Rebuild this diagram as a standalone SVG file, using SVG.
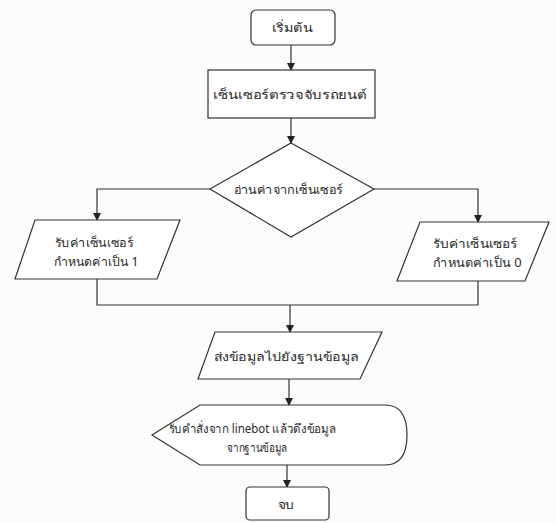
<svg xmlns="http://www.w3.org/2000/svg" width="556" height="523" viewBox="0 0 556 523">
<defs>
<marker id="ah" markerWidth="8" markerHeight="8" refX="7" refY="4" orient="auto" markerUnits="userSpaceOnUse">
<path d="M0,0 L8,4 L0,8 Z" fill="#222"/>
</marker>
<style>
.s{fill:#fff;stroke:#333;stroke-width:1.2}
.c{fill:none;stroke:#333;stroke-width:1.2}
.t{font-family:"Noto Sans","DejaVu Sans","Liberation Sans",sans-serif;font-size:12px;fill:#2a2a2a;text-anchor:middle;dominant-baseline:central}
</style>
</defs>
<rect width="556" height="523" fill="#fcfcfc"/>
<g id="connectors">
<path class="c" d="M291,45 V70" marker-end="url(#ah)"/>
<path class="c" d="M291,118 V143" marker-end="url(#ah)"/>
<path class="c" d="M210,189 H97 V220" marker-end="url(#ah)"/>
<path class="c" d="M374,189 H478 V222" marker-end="url(#ah)"/>
<path class="c" d="M97,279 V305 H478 V281"/>
<path class="c" d="M290,305 V332" marker-end="url(#ah)"/>
<path class="c" d="M289,379 V405" marker-end="url(#ah)"/>
<path class="c" d="M287,465 V487" marker-end="url(#ah)"/>
</g>
<g id="start">
<rect class="s" x="251" y="10" width="84" height="35" rx="5"/>
<text class="t" x="292" y="27" textLength="41" lengthAdjust="spacingAndGlyphs">เริ่มต้น</text>
</g>
<g id="sensor">
<rect class="s" x="208" y="70" width="167" height="48"/>
<text class="t" x="290" y="94" textLength="154" lengthAdjust="spacingAndGlyphs">เซ็นเซอร์ตรวจจับรถยนต์</text>
</g>
<g id="decision">
<path class="s" d="M291,143 L374,189 L291,237 L210,189 Z"/>
<text class="t" x="288" y="189" textLength="109" lengthAdjust="spacingAndGlyphs">อ่านค่าจากเซ็นเซอร์</text>
</g>
<g id="input1">
<path class="s" d="M35,220 H180 L157,279 H15 Z"/>
<text class="t" x="94" y="242" textLength="78" lengthAdjust="spacingAndGlyphs">รับค่าเซ็นเซอร์</text>
<text class="t" x="96" y="261" textLength="85" lengthAdjust="spacingAndGlyphs">กำหนดค่าเป็น 1</text>
</g>
<g id="input0">
<path class="s" d="M420,222 H549 L525,281 H397 Z"/>
<text class="t" x="475" y="243" textLength="84" lengthAdjust="spacingAndGlyphs">รับค่าเซ็นเซอร์</text>
<text class="t" x="477" y="262" textLength="89" lengthAdjust="spacingAndGlyphs">กำหนดค่าเป็น 0</text>
</g>
<g id="send">
<path class="s" d="M215,332 H382 L360,379 H198 Z"/>
<text class="t" x="286" y="356" textLength="145" lengthAdjust="spacingAndGlyphs">ส่งข้อมูลไปยังฐานข้อมูล</text>
</g>
<g id="display">
<path class="s" d="M200,405 H385 Q407,405 407,435 Q407,465 385,465 H200 L152,435 Z"/>
<text class="t" x="252" y="428" textLength="167" lengthAdjust="spacingAndGlyphs">รับคำสั่งจาก linebot แล้วดึงข้อมูล</text>
<text class="t" x="257" y="447" textLength="60" lengthAdjust="spacingAndGlyphs">จากฐานข้อมูล</text>
</g>
<g id="end">
<rect class="s" x="246" y="487" width="83" height="33" rx="4"/>
<text class="t" x="286" y="504" textLength="17" lengthAdjust="spacingAndGlyphs">จบ</text>
</g>
</svg>
